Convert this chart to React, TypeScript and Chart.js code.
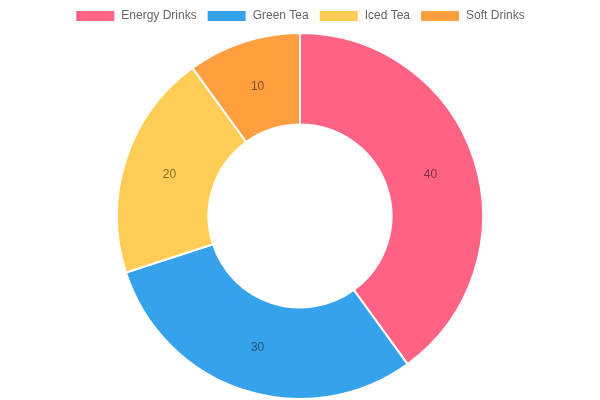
import React, { useEffect, useRef } from "react";
import { Chart, registerables } from "chart.js";

Chart.register(...registerables);

const categories = ["Energy Drinks", "Green Tea", "Iced Tea", "Soft Drinks"];
const values = [40, 30, 20, 10];
const colors = ["rgb(255, 99, 132)", "rgb(54, 162, 235)", "rgb(255, 205, 86)", "rgb(255, 159, 64)"];

const valueLabels = {
  id: "valueLabels",
  afterDatasetsDraw(chart: any) {
    const ctx = chart.ctx;
    const meta = chart.getDatasetMeta(0);
    ctx.save();
    ctx.font = "12px 'Liberation Sans', Arial, Helvetica, sans-serif";
    ctx.fillStyle = "rgba(0,0,0,0.5)";
    ctx.textAlign = "center";
    ctx.textBaseline = "middle";
    meta.data.forEach((arc: any, i: number) => {
      const p = arc.tooltipPosition();
      ctx.fillText(String(chart.data.datasets[0].data[i]), p.x, p.y + 1);
    });
    ctx.restore();
  },
};

export default function App() {
  const ref = useRef<HTMLCanvasElement>(null);
  useEffect(() => {
    if (!ref.current) return;
    Chart.defaults.font.family = "'Liberation Sans', Arial, Helvetica, sans-serif";
    const chart = new Chart(ref.current, {
      type: "doughnut",
      data: {
        labels: categories,
        datasets: [
          {
            data: values,
            backgroundColor: colors,
            borderColor: "#fff",
            borderWidth: 2,
          },
        ],
      },
      options: {
        animation: false,
        responsive: true,
        maintainAspectRatio: false,
        plugins: {
          legend: { position: "top", labels: { color: "#666", font: { size: 12 } } },
          tooltip: { enabled: false },
        },
      },
      plugins: [valueLabels],
    });
    return () => chart.destroy();
  }, []);
  return (
    <div style={{ position: "fixed", left: 0, top: 0, width: 600, height: 400 }}>
      <canvas ref={ref} />
    </div>
  );
}
